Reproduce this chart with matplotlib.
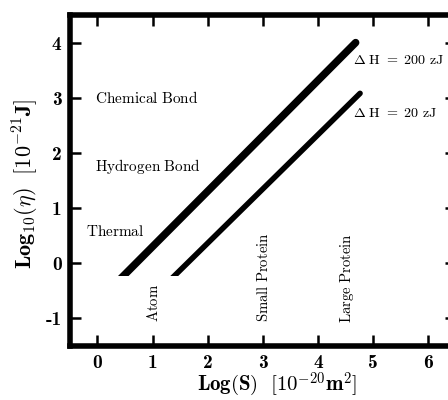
import matplotlib
matplotlib.use("Agg")
import matplotlib.pyplot as plt
from matplotlib.patches import Rectangle

plt.rcParams['mathtext.fontset'] = 'cm'

# data ----------------------------------------------------------------
x_200 = [0.30, 4.68]        # Delta H = 200 zJ
y_200 = [-0.40, 4.00]
x_20 = [1.22, 4.76]         # Delta H = 20 zJ
y_20 = [-0.40, 3.08]

xticks = [0, 1, 2, 3, 4, 5, 6]
yticks = [-1, 0, 1, 2, 3, 4]
xtick_labels = ['0', '1', '2', '3', '4', '5', '6']
ytick_labels = ['-1', '0', '1', '2', '3', '4']

energy_labels = ['Chemical Bond', 'Hydrogen Bond', 'Thermal']
energy_x = [-0.05, -0.05, -0.21]
energy_y = [3.0, 1.75, 0.57]

size_labels = ['Atom', 'Small Protein', 'Large Protein']
size_x = [1.01, 3.01, 4.53]
size_y = [-1.06, -1.06, -1.08]

line_labels = [r'$\Delta\ \mathrm{H}\ =\ 200\ \mathrm{zJ}$',
               r'$\Delta\ \mathrm{H}\ =\ 20\ \mathrm{zJ}$']
line_label_x = [4.64, 4.63]
line_label_y = [3.68, 2.73]

# plot ------------------------------------------------------------------
fig = plt.figure(figsize=(4.48, 4.0), dpi=100)
ax = fig.add_axes([0.156, 0.135, 0.862, 0.8275])

l1, = ax.plot(x_200, y_200, 'k-', linewidth=5.4, solid_capstyle='round')
l2, = ax.plot(x_20, y_20, 'k-', linewidth=4.0, solid_capstyle='round')

# flat cut at the lower end
for ln in (l1, l2):
    clip = Rectangle((-0.5, -0.24), 7.0, 5.0, transform=ax.transData)
    ln.set_clip_path(clip)

ax.set_xlim(-0.5, 6.5)
ax.set_ylim(-1.5, 4.5)

ax.set_xticks(xticks)
ax.set_yticks(yticks)
ax.set_xticklabels(xtick_labels, fontfamily='cmb10', fontsize=14)
ax.set_yticklabels(ytick_labels, fontfamily='cmb10', fontsize=14)
ax.tick_params(direction='in', length=8, width=1.8, top=True, right=True, pad=6)

for sp in ax.spines.values():
    sp.set_linewidth(4)

for lab, xx, yy in zip(energy_labels, energy_x, energy_y):
    ax.text(xx, yy, r'$\mathrm{' + lab.replace(' ', r'\ ') + '}$',
            fontsize=11, ha='left', va='center')

for lab, xx, yy in zip(size_labels, size_x, size_y):
    ax.text(xx, yy, r'$\mathrm{' + lab.replace(' ', r'\ ') + '}$',
            fontsize=10.6, ha='center', va='bottom', rotation=90)

for lab, xx, yy in zip(line_labels, line_label_x, line_label_y):
    ax.text(xx, yy, lab, fontsize=10.2, ha='left', va='center')

fig.text(0.618, 0.038, r'$\mathbf{Log(S)}\ \ [10^{-20}\mathbf{m}^2]$',
         fontsize=15, ha='center', va='center')
fig.text(0.058, 0.54, r'$\mathbf{Log}_{10}(\eta)\ \ [10^{-21}\mathbf{J}]$',
         fontsize=16, ha='center', va='center', rotation=90)

fig.savefig('out.png', dpi=100)
